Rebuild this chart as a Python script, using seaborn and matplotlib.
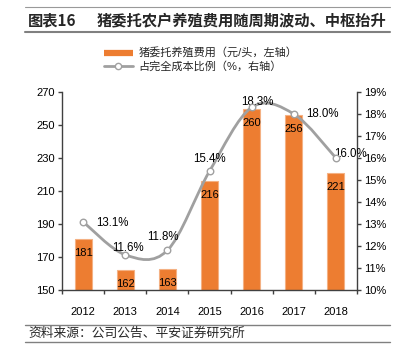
import numpy as np
import pandas as pd
import matplotlib
matplotlib.use("Agg")
import matplotlib.pyplot as plt
import seaborn as sns
from matplotlib.path import Path
from matplotlib.patches import PathPatch
from matplotlib.lines import Line2D

years = ["2012", "2013", "2014", "2015", "2016", "2017", "2018"]
cost = [181, 162, 163, 216, 260, 256, 221]
pct = [13.1, 11.6, 11.8, 15.4, 18.3, 18.0, 16.0]
pct_labels = ["13.1%", "11.6%", "11.8%", "15.4%", "18.3%", "18.0%", "16.0%"]
legend_labels = ["猪委托养殖费用（元/头，左轴）", "占完全成本比例（%，右轴）"]
title_num = "图表16"
title_text = "猪委托农户养殖费用随周期波动、中枢抬升"
source_text = "资料来源：公司公告、平安证券研究所"

sns.set_theme(style="white")
plt.rcParams['font.family'] = ['Liberation Sans', 'Noto Sans CJK SC', 'DejaVu Sans']

ORANGE = "#ED7D31"
GRAY = "#A0A0A0"

fig = plt.figure(figsize=(4.01, 3.51), dpi=100)
ax = fig.add_axes([62/401, 1-290/351, 295/401, 198/351])

df = pd.DataFrame({"year": years, "cost": cost, "pct": pct})
sns.barplot(data=df, x="year", y="cost", color=ORANGE, width=0.4, ax=ax,
            edgecolor="#F4B183", linewidth=0.8, saturation=1)
ax.set_ylim(150, 270)
ax.set_yticks(np.arange(150, 271, 20))
ax.set_xlim(-0.5, len(years) - 0.5)
ax.set_xlabel("")
ax.set_ylabel("")
for sp in ["top", "right"]:
    ax.spines[sp].set_visible(False)
for sp in ["left", "bottom"]:
    ax.spines[sp].set_color("#404040")
    ax.spines[sp].set_linewidth(1.0)
ax.tick_params(axis="y", which="both", left=True, length=3, width=1, color="#404040",
               labelsize=8, pad=2, labelcolor="black")
ax.tick_params(axis="x", which="major", bottom=False, labelsize=8, pad=6, labelcolor="black")
ax.set_xticks(np.arange(-0.5, len(years), 1.0), minor=True)
ax.tick_params(axis="x", which="minor", bottom=True, length=3, width=1, color="#404040")

for i, c in enumerate(cost):
    ax.annotate(str(c), (i, c), xytext=(0, -14), textcoords="offset pixels",
                ha="center", va="center", fontsize=8, color="black")

ax2 = ax.twinx()
ax2.set_ylim(10, 19)
ax2.set_yticks(np.arange(10, 19.01, 1))
ax2.set_yticklabels([f"{v}%" for v in range(10, 20)])
for sp in ["top", "left", "bottom"]:
    ax2.spines[sp].set_visible(False)
ax2.spines["right"].set_color("#404040")
ax2.spines["right"].set_linewidth(1.0)
ax2.tick_params(axis="y", right=True, length=3, width=1, color="#404040", labelsize=8, pad=2,
                labelcolor="black")
ax2.grid(False)
ax.grid(False)

# smooth curve through the points (Bezier rendering)
xs = np.arange(len(years), dtype=float)
pts = np.column_stack([xs, np.array(pct, dtype=float)])
n = len(pts)
verts = [tuple(pts[0])]
codes = [Path.MOVETO]
for i in range(n - 1):
    p0 = pts[max(i - 1, 0)]
    p1 = pts[i]
    p2 = pts[i + 1]
    p3 = pts[min(i + 2, n - 1)]
    c1 = p1 + (p2 - p0) / 6
    c2 = p2 - (p3 - p1) / 6
    verts += [tuple(c1), tuple(c2), tuple(p2)]
    codes += [Path.CURVE4] * 3
ax2.add_patch(PathPatch(Path(verts, codes), facecolor="none", edgecolor=GRAY, lw=2, zorder=3))
sns.scatterplot(x=xs, y=pct, ax=ax2, marker="o", s=22, color="white", edgecolor=GRAY,
                linewidth=1.0, zorder=4, legend=False)

offsets = [(29, -1), (3, 7), (-4, 13), (0, 12), (6, 5), (29, 0), (15, 4)]
for i, (v, lab) in enumerate(zip(pct, pct_labels)):
    ax2.annotate(lab, (i, v), xytext=offsets[i], textcoords="offset pixels",
                 ha="center", va="center", fontsize=8.3, color="black")

# legend
h1 = Line2D([], [], color=ORANGE, lw=4.5, solid_capstyle="butt")
h2 = Line2D([], [], color=GRAY, lw=2, marker="o", markersize=4.5, markerfacecolor="white",
            markeredgecolor=GRAY)
fig.legend([h1, h2], legend_labels, loc="center", bbox_to_anchor=(0.5, 1 - 60/351),
           frameon=False, fontsize=8, handlelength=2.6, handletextpad=0.5,
           labelspacing=0.25, borderpad=0)

# title and decorative lines
fig.text(28/401, 1 - 20/351, title_num, fontsize=11, fontweight="bold", va="center", ha="left",
         family=['Noto Sans CJK SC', 'DejaVu Sans'])
fig.text(97/401, 1 - 20/351, title_text, fontsize=11, fontweight="bold", va="center", ha="left",
         family=['Noto Sans CJK SC', 'DejaVu Sans'])
fig.add_artist(Line2D([25/401, 390/401], [1 - 7/351, 1 - 7/351], color="#999999", lw=0.8,
                      transform=fig.transFigure))
fig.add_artist(Line2D([25/401, 390/401], [1 - 32/351, 1 - 32/351], color="#808080", lw=1.5,
                      transform=fig.transFigure))
fig.add_artist(Line2D([25/401, 390/401], [1 - 325/351, 1 - 325/351], color="#808080", lw=1,
                      transform=fig.transFigure))
fig.add_artist(Line2D([25/401, 390/401], [1 - 342/351, 1 - 342/351], color="#808080", lw=1,
                      transform=fig.transFigure))
fig.text(28/401, 1 - 333/351, source_text, fontsize=9.2, style="italic", va="center", ha="left",
         family=['Noto Sans CJK SC', 'DejaVu Sans'])

fig.savefig("out.png", dpi=100)
